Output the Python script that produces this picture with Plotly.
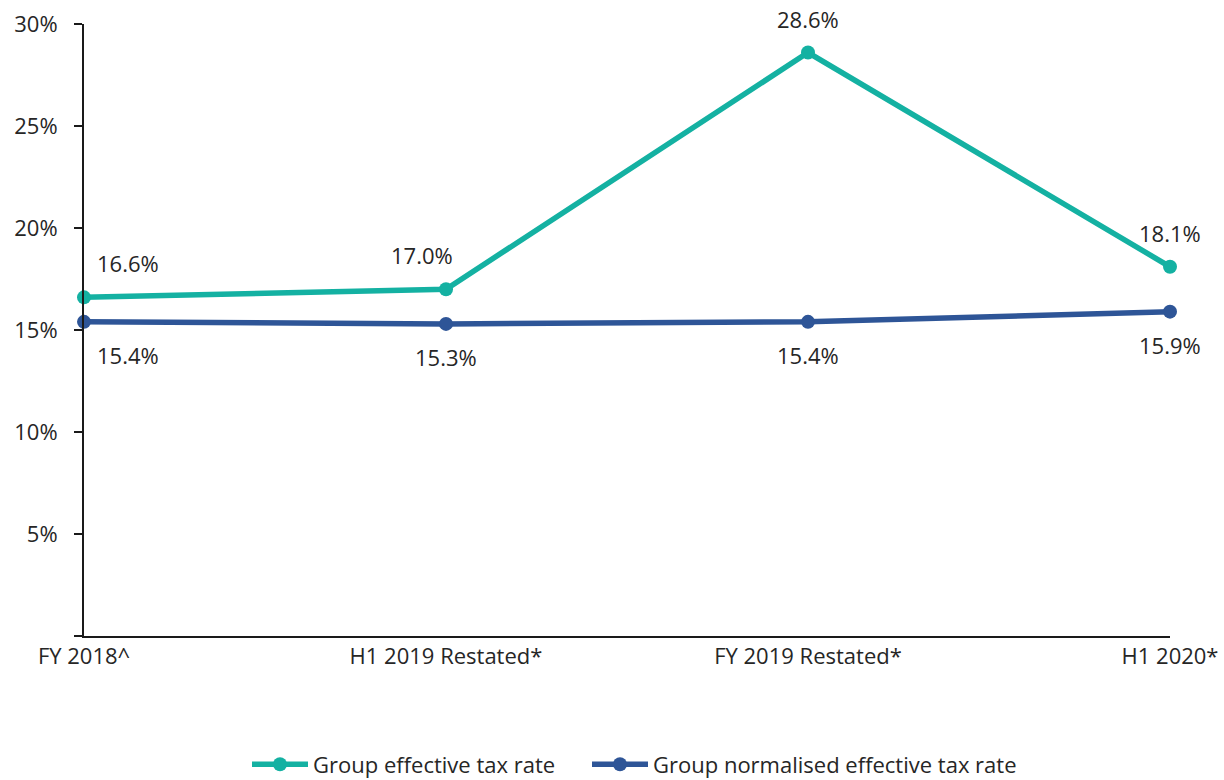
import plotly.graph_objects as go

# Reporting periods and tax-rate series (%)
periods = ["FY 2018^", "H1 2019 Restated*", "FY 2019 Restated*", "H1 2020*"]
effective_rate = [16.6, 17.0, 28.6, 18.1]
normalised_rate = [15.4, 15.3, 15.4, 15.9]

y_ticks = [0, 5, 10, 15, 20, 25, 30]
y_tick_text = ["", "5%", "10%", "15%", "20%", "25%", "30%"]

TEAL = "#14B1A2"
NAVY = "#2E5597"
TEXT = "#262626"
FONT = "Open Sans"
FS = 22

L, R, T, B = 84, 54, 24, 144
PLOT_W = 1224 - L - R


def px_to_paper_x(px):
    return (px - L) / PLOT_W


fig = go.Figure()
fig.add_trace(go.Scatter(
    x=list(range(len(periods))), y=effective_rate, mode="lines+markers",
    name="Group effective tax rate", legend="legend",
    line=dict(color=TEAL, width=5.5), marker=dict(color=TEAL, size=14),
    cliponaxis=False,
))
fig.add_trace(go.Scatter(
    x=list(range(len(periods))), y=normalised_rate, mode="lines+markers",
    name="Group normalised effective tax rate", legend="legend2",
    line=dict(color=NAVY, width=5.5), marker=dict(color=NAVY, size=14),
    cliponaxis=False,
))

# Value labels: effective rate above, normalised rate below
eff_xshift = [44, -24, 0, 0]
norm_xshift = [44, 0, 0, 0]
for i, v in enumerate(effective_rate):
    fig.add_annotation(x=i, y=v, text=f"{v:.1f}%", showarrow=False,
                       xshift=eff_xshift[i], yshift=34,
                       font=dict(family=FONT, size=FS, color=TEXT))
for i, v in enumerate(normalised_rate):
    fig.add_annotation(x=i, y=v, text=f"{v:.1f}%", showarrow=False,
                       xshift=norm_xshift[i], yshift=-33,
                       font=dict(family=FONT, size=FS, color=TEXT))

legend_style = dict(orientation="h", xanchor="left", y=-0.21, yanchor="middle",
                    font=dict(family=FONT, size=FS, color=TEXT), itemwidth=56,
                    bgcolor="rgba(0,0,0,0)")

fig.update_layout(
    width=1224, height=780,
    margin=dict(l=L, r=R, t=T, b=B, autoexpand=False),
    paper_bgcolor="white", plot_bgcolor="white",
    font=dict(family=FONT, size=FS, color=TEXT),
    showlegend=True,
    legend=dict(x=px_to_paper_x(247), **legend_style),
    legend2=dict(x=px_to_paper_x(587), **legend_style),
)
fig.update_xaxes(
    range=[0, len(periods) - 1], tickvals=list(range(len(periods))), ticktext=periods,
    showgrid=False, zeroline=False, showline=True, linecolor="#1a1a1a", linewidth=2,
    ticks="", tickfont=dict(family=FONT, size=FS, color=TEXT),
)
fig.update_yaxes(
    range=[0, 30], tickvals=y_ticks, ticktext=y_tick_text,
    showgrid=False, zeroline=False, showline=True, linecolor="#1a1a1a", linewidth=2,
    ticks="outside", ticklen=8, tickwidth=2, tickcolor="#1a1a1a",
    ticklabelstandoff=12,
    tickfont=dict(family=FONT, size=FS, color=TEXT),
)

fig.write_html("out.html")
